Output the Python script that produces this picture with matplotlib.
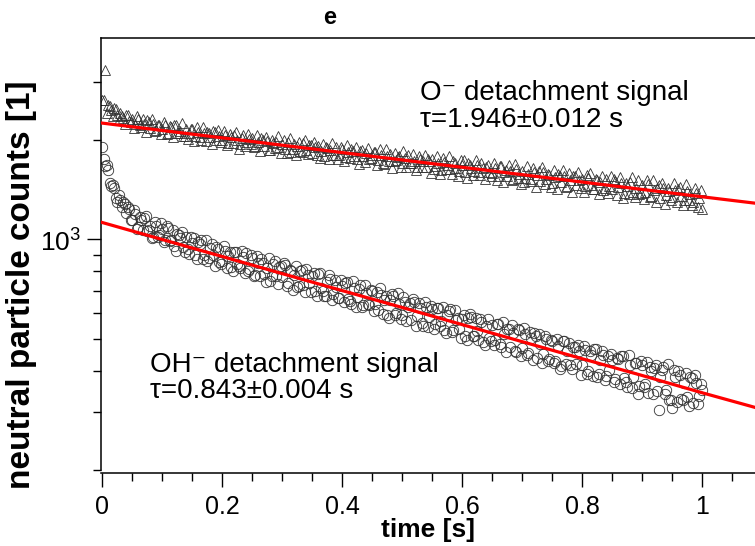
import numpy as np
import matplotlib
matplotlib.use("Agg")
import matplotlib.pyplot as plt
from matplotlib.ticker import FixedLocator, FixedFormatter, NullFormatter

plt.rcParams['font.family'] = ['Liberation Sans', 'DejaVu Sans']
plt.rcParams['mathtext.fontset'] = 'custom'
plt.rcParams['mathtext.rm'] = 'Liberation Sans'

# sampling grid of the measurement (0..1 s, 5 ms steps, second set shifted by 2.5 ms)
time_a = np.round(np.arange(201) * 0.005, 4)
time_b = np.round(np.arange(200) * 0.005 + 0.0025, 4)

# O- detachment signal (triangles), counts
o_counts_a = [
    2650, 3270, 2560, 2470, 2500, 2380, 2420, 2330, 2390, 2280,
    2310, 2232, 2313, 2195, 2246, 2298, 2180, 2232, 2144, 2226,
    2160, 2222, 2105, 2187, 2230, 2102, 2135, 2057, 2160, 2102,
    2166, 2059, 2112, 2005, 2108, 2121, 2044, 2127, 2000, 2053,
    2008, 2072, 1956, 2040, 2075, 1999, 1953, 2077, 1972, 2016,
    2031, 1916, 1981, 2036, 1921, 1986, 1871, 1966, 1981, 1906,
    1951, 1886, 1981, 1846, 1941, 1917, 1852, 1967, 1872, 1927,
    1822, 1907, 1922, 1848, 1793, 1898, 1863, 1809, 1904, 1809,
    1874, 1779, 1845, 1880, 1785, 1751, 1856, 1791, 1827, 1752,
    1797, 1843, 1738, 1804, 1699, 1785, 1810, 1726, 1741, 1786,
    1702, 1768, 1803, 1709, 1734, 1660, 1756, 1731, 1657, 1732,
    1748, 1664, 1710, 1625, 1721, 1687, 1632, 1728, 1644, 1609,
    1685, 1601, 1707, 1652, 1608, 1684, 1570, 1646, 1661, 1597,
    1592, 1648, 1554, 1670, 1606, 1552, 1618, 1524, 1630, 1576,
    1612, 1538, 1574, 1500, 1606, 1572, 1508, 1604, 1520, 1566,
    1482, 1548, 1584, 1490, 1556, 1453, 1519, 1555, 1461, 1517,
    1523, 1449, 1536, 1462, 1418, 1514, 1490, 1417, 1523, 1449,
    1425, 1501, 1438, 1484, 1380, 1457, 1493, 1389, 1436, 1372,
    1458, 1394, 1471, 1357, 1414, 1430, 1336, 1433, 1359, 1405,
    1342, 1408, 1425, 1351, 1318, 1404, 1371, 1297, 1384, 1340,
    1240,
]
o_counts_b = [
    2645, 2420, 2535, 2375, 2488, 2295, 2375, 2238, 2390, 2272,
    2176, 2368, 2219, 2320, 2122, 2274, 2316, 2138, 2220, 2092,
    2276, 2088, 2201, 2043, 2216, 2109, 2251, 2064, 2016, 2169,
    1992, 2185, 2038, 2191, 1994, 2107, 1940, 2113, 2146, 1970,
    2125, 1929, 2083, 1957, 2122, 1886, 2030, 1914, 2089, 1943,
    1908, 2073, 1858, 2003, 2048, 1863, 2008, 1893, 2058, 1833,
    2008, 1833, 2029, 1874, 1809, 1974, 1839, 1995, 1810, 1935,
    1980, 1805, 1760, 1946, 1901, 1756, 1961, 1797, 1752, 1907,
    1732, 1937, 1763, 1858, 1903, 1699, 1864, 1719, 1895, 1760,
    1845, 1681, 1876, 1702, 1877, 1723, 1648, 1834, 1779, 1654,
    1850, 1656, 1701, 1817, 1622, 1788, 1654, 1809, 1755, 1590,
    1636, 1792, 1578, 1763, 1639, 1785, 1580, 1706, 1562, 1747,
    1743, 1539, 1685, 1570, 1746, 1602, 1708, 1524, 1679, 1555,
    1710, 1516, 1672, 1488, 1624, 1680, 1516, 1692, 1538, 1474,
    1490, 1666, 1522, 1648, 1444, 1610, 1656, 1472, 1578, 1444,
    1620, 1426, 1552, 1628, 1445, 1591, 1397, 1553, 1599, 1435,
    1391, 1568, 1594, 1420, 1526, 1372, 1559, 1435, 1381, 1557,
    1523, 1360, 1546, 1332, 1479, 1375, 1541, 1348, 1514, 1380,
    1326, 1513, 1349, 1515, 1302, 1458, 1485, 1281, 1427, 1314,
    1480, 1297, 1443, 1270, 1476, 1313, 1269, 1436, 1252, 1409,
]

# OH- detachment signal (circles)
oh_counts_a = [
    1900, 1670, 1620, 1450, 1430, 1300, 1320, 1295, 1200, 1240,
    1145, 1197, 1090, 1145, 1160, 1060, 1100, 1017, 1095, 1035,
    1075, 995, 1085, 995, 955, 1036, 1007, 948, 1020, 902,
    975, 898, 981, 994, 897, 860, 943, 896, 949, 853,
    858, 923, 888, 823, 917, 842, 817, 882, 907, 812,
    877, 782, 847, 872, 787, 822, 747, 842, 777, 823,
    768, 834, 739, 804, 780, 715, 801, 726, 812, 737,
    773, 698, 784, 710, 675, 741, 757, 683, 718, 664,
    720, 736, 662, 638, 714, 670, 726, 632, 688, 634,
    700, 636, 612, 678, 654, 590, 657, 673, 599, 635,
    592, 648, 624, 571, 647, 584, 620, 547, 623, 580,
    616, 553, 619, 566, 532, 589, 616, 532, 569, 536,
    572, 509, 576, 583, 509, 526, 573, 490, 547, 503,
    550, 497, 554, 471, 518, 535, 472, 519, 456, 533,
    470, 517, 454, 502, 519, 436, 483, 450, 498, 435,
    492, 429, 476, 414, 491, 458, 416, 473, 420, 458,
    415, 462, 400, 447, 465, 382, 430, 447, 385, 402,
    430, 377, 435, 443, 380, 358, 416, 384, 421, 359,
    417, 365, 342, 400, 408, 346, 383, 411, 349, 327,
    309, 382, 400, 328, 366, 334, 382, 320, 368, 336,
    350,
]
oh_counts_b = [
    1750, 1680, 1480, 1465, 1340, 1360, 1252, 1278, 1255, 1147,
    1226, 1078, 1172, 1067, 1175, 1065, 1013, 1131, 1020, 1120,
    980, 1100, 990, 1070, 920, 1031, 1052, 914, 936, 1018,
    1011, 874, 967, 870, 993, 876, 969, 832, 936, 840,
    955, 820, 915, 800, 915, 830, 925, 789, 804, 899,
    775, 890, 775, 850, 745, 880, 775, 860, 735, 830,
    846, 721, 807, 702, 828, 723, 809, 694, 780, 695,
    791, 676, 792, 698, 673, 779, 655, 751, 666, 752,
    648, 744, 650, 746, 622, 708, 624, 730, 636, 702,
    608, 694, 710, 596, 672, 579, 685, 591, 687, 573,
    670, 566, 642, 659, 545, 642, 558, 645, 541, 628,
    534, 621, 547, 624, 521, 607, 524, 611, 577, 504,
    590, 497, 594, 511, 578, 495, 562, 478, 575, 492,
    479, 556, 483, 560, 457, 534, 551, 458, 535, 442,
    539, 446, 523, 431, 508, 515, 422, 509, 427, 494,
    421, 498, 405, 492, 420, 487, 405, 472, 479, 387,
    474, 391, 459, 386, 464, 391, 459, 376, 444, 451,
    369, 436, 364, 442, 369, 447, 355, 423, 340, 428,
    356, 424, 411, 339, 417, 305, 402, 340, 418, 326,
    403, 321, 389, 327, 395, 313, 381, 389, 317, 365,
]

# red fit curves, read at the nodes below
fit_t = [0.0, 0.1, 0.2, 0.3, 0.4, 0.5, 0.6, 0.7, 0.8, 0.9, 1.0, 1.09]
fit_o = [2253, 2140, 2033, 1931, 1834, 1742, 1655, 1572, 1493, 1418, 1347, 1287]
fit_oh = [1126, 1000, 888, 788, 700, 622, 552, 490, 435, 387, 343, 309]

x_ticks = [0, 0.2, 0.4, 0.6, 0.8, 1.0]
x_tick_labels = ["0", "0.2", "0.4", "0.6", "0.8", "1"]
y_minor = [200, 300, 400, 500, 600, 700, 800, 900, 2000, 3000]

fig = plt.figure(figsize=(7.55, 5.46), dpi=100)
ax = fig.add_axes([101 / 755, 1 - 470 / 546, 654 / 755, 432 / 546])

marker_style = dict(linestyle="none", mfc="none", mec="0.2", mew=0.6, zorder=2)
ax.plot(np.concatenate([time_a, time_b]), o_counts_a + o_counts_b,
        marker="^", ms=6.5, **marker_style)
ax.plot(np.concatenate([time_a, time_b]), oh_counts_a + oh_counts_b,
        marker="o", ms=7.5, **marker_style)
ax.plot(fit_t, fit_o, color="red", lw=2.3, zorder=3)
ax.plot(fit_t, fit_oh, color="red", lw=2.3, zorder=3)

ax.set_yscale("log")
ax.set_xlim(-1 / 600, 653 / 600)
ax.set_ylim(200, 4080)

ax.xaxis.set_major_locator(FixedLocator(x_ticks))
ax.xaxis.set_major_formatter(FixedFormatter(x_tick_labels))
ax.xaxis.set_minor_locator(FixedLocator(np.round(np.arange(0, 1.1, 0.05), 2)))
ax.yaxis.set_major_locator(FixedLocator([1000]))
ax.yaxis.set_major_formatter(FixedFormatter([r"10$^{\mathrm{3}}$"]))
ax.yaxis.set_minor_locator(FixedLocator(y_minor))
ax.yaxis.set_minor_formatter(NullFormatter())

ax.tick_params(which="both", direction="out", width=1.0, labelsize=18,
               top=False, right=False)
ax.tick_params(axis="y", labelsize=19)
ax.tick_params(which="major", length=10)
ax.tick_params(which="minor", length=6)
ax.tick_params(axis="x", pad=6)
ax.tick_params(axis="y", pad=4)

for side in ["left", "top", "bottom"]:
    ax.spines[side].set_linewidth(1.1)
ax.spines["right"].set_visible(False)
ax.spines["bottom"].set_position(("outward", 2))

ax.set_xlabel("time [s]", fontsize=19, fontweight="bold")
ax.xaxis.set_label_coords(0.5, -0.11)
fig.text(0.029, 0.478, "neutral particle counts [1]", rotation=90,
         ha="center", va="center", fontsize=24, fontweight="bold")
fig.text(330 / 755, 1 - 18 / 546, "e", ha="center", va="center",
         fontsize=17, fontweight="bold")

ax.text(0.488, 0.8565, "O⁻ detachment signal", fontsize=20,
        transform=ax.transAxes, va="baseline")
ax.text(0.488, 0.794, "τ=1.946±0.012 s", fontsize=20,
        transform=ax.transAxes, va="baseline")
ax.text(0.075, 0.2269, "OH⁻ detachment signal", fontsize=20,
        transform=ax.transAxes, va="baseline")
ax.text(0.075, 0.1667, "τ=0.843±0.004 s", fontsize=20,
        transform=ax.transAxes, va="baseline")

fig.savefig("out.png", dpi=100)
